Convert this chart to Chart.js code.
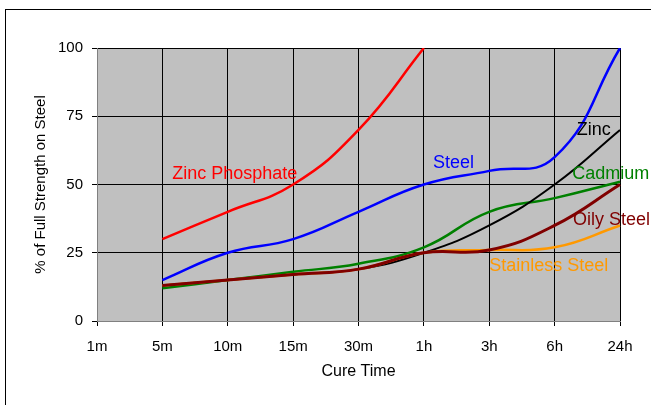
<!DOCTYPE html>
<html>
<head>
<meta charset="utf-8">
<script src="https://cdn.jsdelivr.net/npm/chart.js@4/dist/chart.umd.min.js"></script>
<style>
  html, body { margin: 0; padding: 0; background: #fff; }
  #wrap { width: 651px; height: 405px; position: relative; }
</style>
</head>
<body>
<div id="wrap"><canvas id="cureChart" width="651" height="405"></canvas></div>
<script>
// data
const cureTimes = ['1m', '5m', '10m', '15m', '30m', '1h', '3h', '6h', '24h'];
const yTicks = [0, 25, 50, 75, 100];
const zincPhosphate = [null, 30, 40, 50, 70, 100, null, null, null];
const steel = [null, 15, 25, 30, 40, 50, 55, 60, 100];
const zinc = [null, 13, 15, 17, 19, 25, 35, 50, 70];
const cadmium = [null, 12, 15, 18, 21, 27, 40, 45, 51];
const stainlessSteel = [null, 13, 15, 17, 19, 25, 26, 27, 35];
const oilySteel = [null, 13, 15, 17, 19, 25, 26, 35, 50];

// series name labels, placed in data units
const seriesLabels = [
  { text: 'Zinc Phosphate', color: '#ff0000', x: 1.15, y: 54 },
  { text: 'Steel', color: '#0000ff', x: 5.14, y: 58 },
  { text: 'Zinc', color: '#000000', x: 7.34, y: 70 },
  { text: 'Cadmium', color: '#008000', x: 7.27, y: 54 },
  { text: 'Oily Steel', color: '#800000', x: 7.28, y: 37 },
  { text: 'Stainless Steel', color: '#ff9900', x: 6.0, y: 20 }
];

const L = 97, R = 620, T = 48, B = 321;
const FONT = '"Liberation Sans", Arial, sans-serif';

const chartBg = {
  id: 'chartBg',
  beforeDraw(chart) {
    const { ctx, chartArea: a } = chart;
    ctx.save();
    ctx.fillStyle = '#fff';
    ctx.fillRect(0, 0, chart.width, chart.height);
    ctx.strokeStyle = '#000';
    ctx.lineWidth = 1;
    ctx.strokeRect(5.5, 9.5, chart.width + 10, chart.height + 10);
    ctx.fillStyle = '#c0c0c0';
    ctx.fillRect(a.left, a.top, a.right - a.left, a.bottom - a.top);
    ctx.restore();
  },
  afterDatasetsDraw(chart) {
    const { ctx, scales, chartArea: a } = chart;
    ctx.save();
    ctx.font = '18px ' + FONT;
    ctx.textBaseline = 'middle';
    seriesLabels.forEach(l => {
      ctx.fillStyle = l.color;
      ctx.fillText(l.text, scales.x.getPixelForValue(l.x), scales.y.getPixelForValue(l.y));
    });
    // axis titles
    ctx.fillStyle = '#000';
    ctx.textAlign = 'center';
    ctx.font = '16px ' + FONT;
    ctx.fillText('Cure Time', (a.left + a.right) / 2, 372);
    ctx.translate(41, (a.top + a.bottom) / 2);
    ctx.rotate(-Math.PI / 2);
    ctx.font = '15px ' + FONT;
    ctx.fillText('% of Full Strength on Steel', 0, 0);
    ctx.restore();
  }
};

function ds(label, data, color, width) {
  return {
    label, data,
    borderColor: color,
    borderWidth: width || 2.5,
    pointRadius: 0,
    tension: 0.45,
    fill: false,
    spanGaps: false
  };
}

new Chart(document.getElementById('cureChart').getContext('2d'), {
  type: 'line',
  data: {
    labels: cureTimes,
    datasets: [
      ds('Oily Steel', oilySteel, '#800000', 3),
      ds('Stainless Steel', stainlessSteel, '#ff9900'),
      ds('Zinc', zinc, '#000000', 2),
      ds('Cadmium', cadmium, '#008000'),
      ds('Steel', steel, '#0000ff'),
      ds('Zinc Phosphate', zincPhosphate, '#ff0000')
    ]
  },
  options: {
    responsive: false,
    animation: false,
    devicePixelRatio: 1,
    layout: { padding: { top: T, right: 651 - R, left: 0, bottom: 0 } },
    plugins: { legend: { display: false }, tooltip: { enabled: false } },
    scales: {
      x: {
        offset: false,
        grid: { color: '#000', lineWidth: 1, tickLength: 5, drawTicks: true },
        border: { color: '#808080', width: 1 },
        ticks: { color: '#000', font: { size: 15, family: FONT }, padding: 12, maxRotation: 0, autoSkip: false },
        afterFit(s) { s.height = 405 - B; }
      },
      y: {
        min: 0, max: 100,
        afterBuildTicks(s) { s.ticks = yTicks.map(v => ({ value: v })); },
        grid: { color: '#000', lineWidth: 1, tickLength: 5 },
        border: { color: '#808080', width: 1 },
        ticks: { color: '#000', font: { size: 15, family: FONT }, padding: 9 },
        afterFit(s) { s.width = L; }
      }
    }
  },
  plugins: [chartBg]
});
</script>
</body>
</html>
